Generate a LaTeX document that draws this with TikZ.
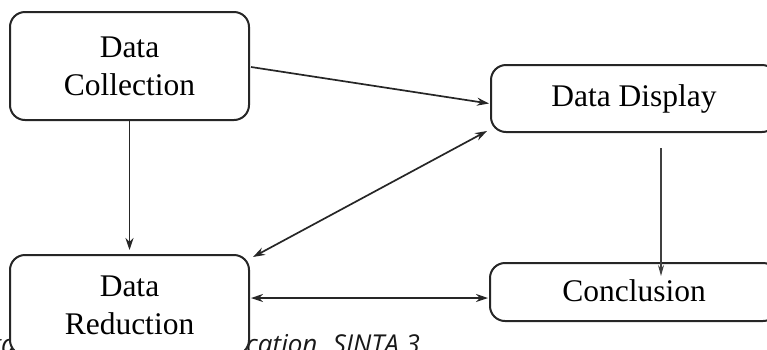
\documentclass[tikz,border=0pt]{standalone}
\usepackage{fontspec}
\setmainfont{Liberation Serif}
\newfontfamily\capfont{Open Sans}
\usetikzlibrary{arrows.meta,calc}
\tikzset{
  stagebox/.style={draw=black!85, line width=2pt, rounded corners=15pt, fill=white,
    font=\fontsize{31.5}{38}\selectfont, align=center, inner sep=0pt},
  conn/.style={draw=black!85, line width=1.7pt, -{Stealth[length=12pt,width=8pt]}},
  dconn/.style={draw=black!85, line width=1.7pt, {Stealth[length=12pt,width=8pt]}-{Stealth[length=12pt,width=8pt]}},
  thinconn/.style={draw=black!75, line width=1.2pt, -{Stealth[length=11pt,width=6pt]}},
  captext/.style={font=\capfont\itshape\fontsize{26}{30}\selectfont, inner sep=0pt, text=black!90}
}
\begin{document}
\begin{tikzpicture}[x=1pt,y=-1pt]
\useasboundingbox (0,0) rectangle (767,349);
% partly hidden caption behind the boxes
\node[captext, anchor=base east] (capl) at (16,353) {ga};
\node[captext, anchor=base west] (capr) at (246,353) {cation. SINTA 3};
% boxes
\node[stagebox, minimum width=239pt, minimum height=108pt] (coll) at (129.5,66) {Data\\Collection};
\node[stagebox, minimum width=239pt, minimum height=100pt] (red) at (129.5,305) {Data\\Reduction};
\node[stagebox, minimum width=286pt, minimum height=67pt, text height=22pt, text depth=7pt] (disp) at (634,98.5) {Data Display};
\node[stagebox, minimum width=288pt, minimum height=58pt, text height=22pt, text depth=4pt] (conc) at (634,292) {Conclusion};
% connectors
\coordinate (dispin) at ($(disp.west)+(-1,5)$);
\draw[conn] ($(coll.east)+(1,1)$) -- (dispin);
\draw[conn] (coll.south) -- ($(red.north)+(0,-4)$);
\draw[dconn] ($(red.north east)+(3,3)$) -- ($(disp.south west)+(-3,-2)$);
\coordinate (concin) at ($(conc.west)+(-1,6)$);
\draw[dconn] ($(red.east |- concin)+(1,0)$) -- (concin);
\draw[thinconn] ($(disp.south)+(27,15)$) -- ($(conc.north)+(27,14)$);
\end{tikzpicture}
\end{document}
